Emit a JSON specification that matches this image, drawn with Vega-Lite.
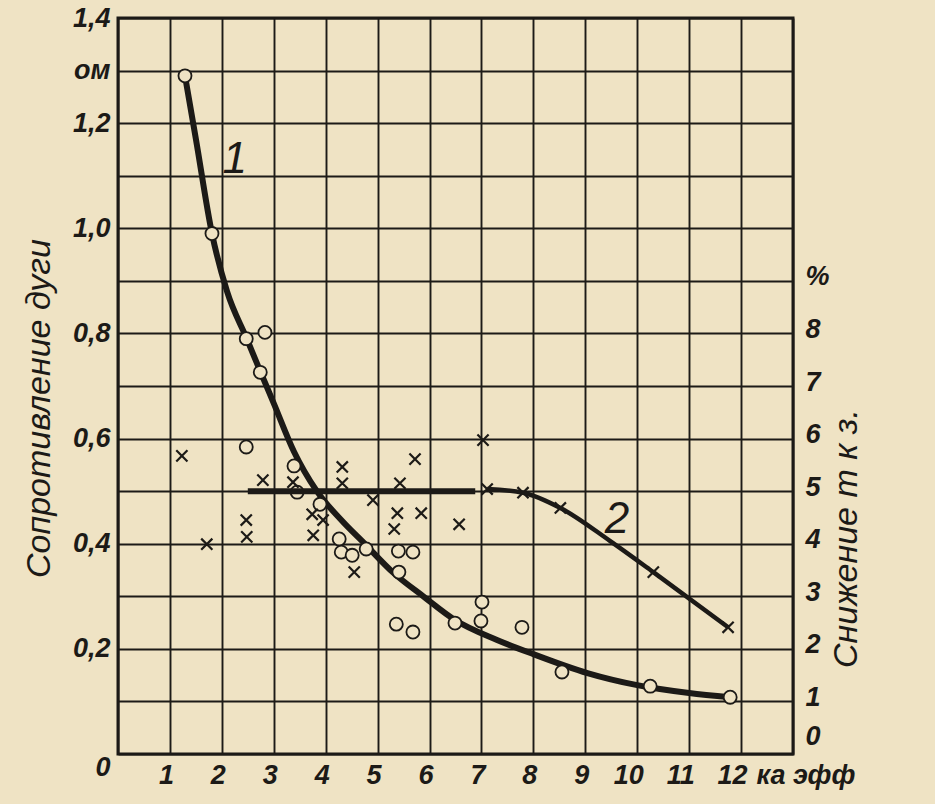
{
  "$schema": "https://vega.github.io/schema/vega-lite/v6.json",
  "width": 675,
  "height": 736,
  "autosize": "none",
  "padding": {"left": 118, "top": 18, "right": 142, "bottom": 50},
  "background": "#efe3c4",
  "config": {
    "view": {"stroke": "#1c1a17", "strokeWidth": 3},
    "axis": {
      "labelFont": "Liberation Sans, sans-serif",
      "labelFontStyle": "italic",
      "labelFontWeight": "bold",
      "labelFontSize": 27,
      "labelColor": "#1c1a17",
      "titleFont": "Liberation Sans, sans-serif",
      "titleFontStyle": "italic",
      "titleFontWeight": "normal",
      "titleFontSize": 34,
      "titleColor": "#1c1a17",
      "ticks": false,
      "domain": false,
      "gridColor": "#1c1a17",
      "gridOpacity": 1,
      "gridWidth": 1.9,
      "labelOverlap": false,
      "labelFlush": false,
      "labelBound": false
    }
  },
  "datasets": {
    "curve1": [
      {"x": 1.29, "r": 1.29}, {"x": 1.5, "r": 1.17}, {"x": 1.81, "r": 0.99}, {"x": 2.1, "r": 0.88},
      {"x": 2.48, "r": 0.79}, {"x": 2.74, "r": 0.728}, {"x": 3.0, "r": 0.667}, {"x": 3.39, "r": 0.575},
      {"x": 3.83, "r": 0.5}, {"x": 4.3, "r": 0.445}, {"x": 4.75, "r": 0.4}, {"x": 5.3, "r": 0.345},
      {"x": 5.88, "r": 0.3}, {"x": 6.49, "r": 0.255}, {"x": 7.3, "r": 0.217}, {"x": 8.0, "r": 0.19},
      {"x": 9.04, "r": 0.154}, {"x": 10.0, "r": 0.131}, {"x": 11.0, "r": 0.116}, {"x": 11.79, "r": 0.108}
    ],
    "circles": [
      {"x": 1.29, "r": 1.29}, {"x": 1.81, "r": 0.99}, {"x": 2.47, "r": 0.79}, {"x": 2.83, "r": 0.802},
      {"x": 2.74, "r": 0.726}, {"x": 2.47, "r": 0.584}, {"x": 3.39, "r": 0.548}, {"x": 3.45, "r": 0.498},
      {"x": 3.89, "r": 0.475}, {"x": 4.26, "r": 0.409}, {"x": 4.3, "r": 0.384}, {"x": 4.51, "r": 0.378},
      {"x": 4.78, "r": 0.39}, {"x": 5.4, "r": 0.386}, {"x": 5.68, "r": 0.384}, {"x": 5.41, "r": 0.346},
      {"x": 5.36, "r": 0.247}, {"x": 5.68, "r": 0.232}, {"x": 6.49, "r": 0.249}, {"x": 7.01, "r": 0.289},
      {"x": 6.99, "r": 0.253}, {"x": 7.78, "r": 0.241}, {"x": 8.55, "r": 0.156}, {"x": 10.25, "r": 0.129},
      {"x": 11.79, "r": 0.108}
    ],
    "curve2": [
      {"seg": "a", "x": 2.5, "p": 5.0}, {"seg": "a", "x": 6.88, "p": 5.0},
      {"seg": "b", "x": 7.11, "p": 5.04}, {"seg": "b", "x": 7.8, "p": 4.97}, {"seg": "b", "x": 8.52, "p": 4.68},
      {"seg": "b", "x": 9.48, "p": 4.05}, {"seg": "b", "x": 10.31, "p": 3.46}, {"seg": "b", "x": 11.75, "p": 2.41}
    ],
    "crosses": [
      {"x": 1.23, "p": 5.67}, {"x": 1.71, "p": 3.99}, {"x": 2.47, "p": 4.45}, {"x": 2.48, "p": 4.13},
      {"x": 2.79, "p": 5.21}, {"x": 3.37, "p": 5.17}, {"x": 3.74, "p": 4.56}, {"x": 3.95, "p": 4.45},
      {"x": 3.76, "p": 4.16}, {"x": 4.32, "p": 5.46}, {"x": 4.32, "p": 5.15}, {"x": 4.55, "p": 3.46},
      {"x": 4.91, "p": 4.83}, {"x": 5.38, "p": 4.58}, {"x": 5.43, "p": 5.15}, {"x": 5.32, "p": 4.28},
      {"x": 5.72, "p": 5.61}, {"x": 5.84, "p": 4.58}, {"x": 6.57, "p": 4.37}, {"x": 7.03, "p": 5.97},
      {"x": 7.11, "p": 5.04}, {"x": 7.8, "p": 4.97}, {"x": 8.52, "p": 4.68}, {"x": 10.31, "p": 3.46},
      {"x": 11.75, "p": 2.41}
    ],
    "label1": [{"x": 2.25, "r": 1.13, "t": "1"}],
    "label2": [{"x": 9.61, "p": 4.45, "t": "2"}]
  },
  "layer": [
    {
      "layer": [
        {
          "data": {"name": "curve1"},
          "mark": {"type": "line", "interpolate": "monotone", "color": "#1c1a17", "strokeWidth": 6, "strokeCap": "round"},
          "encoding": {
            "x": {"field": "x", "type": "quantitative", "scale": {"domain": [0, 13], "nice": false},
                  "axis": {"values": [0,1,2,3,4,5,6,7,8,9,10,11,12,13], "grid": true, "title": null, "labelPadding": 8,
                           "labelOffset": {"condition": [{"test": "datum.value==13", "value": -37}, {"test": "datum.value>=10", "value": -9}], "value": -4},
                           "labelAlign": {"condition": {"test": "datum.value==13", "value": "left"}, "value": "center"},
                           "labelExpr": "datum.value==0 ? '' : datum.value==13 ? 'ка эфф' : datum.label"}},
            "y": {"field": "r", "type": "quantitative", "scale": {"domain": [0, 1.4], "nice": false},
                  "axis": {"orient": "left", "values": [0,0.1,0.2,0.3,0.4,0.5,0.6,0.7,0.8,0.9,1.0,1.1,1.2,1.3,1.4], "grid": true,
                           "labelPadding": 8,
                           "labelExpr": "datum.value==0 ? '0' : datum.value==1.3 ? 'ом' : (round(datum.value*10)%2==0 ? replace(format(datum.value,'.1f'),'.',',') : '')",
                           "labelBaseline": {"condition": {"test": "datum.value==0", "value": "top"}, "value": "middle"},
                           "title": "Сопротивление дуги", "titlePadding": 16, "titleY": 390}}
          }
        },
        {
          "data": {"name": "circles"},
          "mark": {"type": "point", "shape": "circle", "filled": true, "fill": "#efe3c4", "stroke": "#1c1a17", "strokeWidth": 1.8, "size": 170, "opacity": 1},
          "encoding": {
            "x": {"field": "x", "type": "quantitative"},
            "y": {"field": "r", "type": "quantitative"}
          }
        },
        {
          "data": {"name": "label1"},
          "mark": {"type": "text", "font": "Liberation Sans, sans-serif", "fontStyle": "italic", "fontSize": 44, "color": "#1c1a17"},
          "encoding": {
            "x": {"field": "x", "type": "quantitative"},
            "y": {"field": "r", "type": "quantitative"},
            "text": {"field": "t"}
          }
        }
      ]
    },
    {
      "layer": [
        {
          "data": {"name": "curve2"},
          "mark": {"type": "line", "interpolate": "monotone", "color": "#1c1a17"},
          "encoding": {
            "x": {"field": "x", "type": "quantitative", "scale": {"domain": [0, 13], "nice": false},
                  "axis": {"values": [0,1,2,3,4,5,6,7,8,9,10,11,12,13], "grid": true, "title": null, "labelPadding": 8,
                           "labelOffset": {"condition": [{"test": "datum.value==13", "value": -37}, {"test": "datum.value>=10", "value": -9}], "value": -4},
                           "labelAlign": {"condition": {"test": "datum.value==13", "value": "left"}, "value": "center"},
                           "labelExpr": "datum.value==0 ? '' : datum.value==13 ? 'ка эфф' : datum.label"}},
            "y": {"field": "p", "type": "quantitative", "scale": {"domain": [0, 14], "nice": false},
                  "axis": {"orient": "right", "values": [0,1,2,3,4,5,6,7,8,9], "grid": false,
                           "labelPadding": 12, "labelOffset": -4,
                           "labelExpr": "datum.value==9 ? '%' : datum.label",
                           "labelBaseline": {"condition": {"test": "datum.value==0", "value": "bottom"}, "value": "middle"},
                           "title": "Снижение т к з.", "titleAngle": 270, "titlePadding": 34, "titleY": 520}},
            "detail": {"field": "seg"},
            "strokeWidth": {"field": "seg", "type": "nominal", "scale": {"domain": ["a", "b"], "range": [6, 4.5]}, "legend": null}
          }
        },
        {
          "data": {"name": "crosses"},
          "mark": {"type": "point", "shape": "M-1,-1L1,1M-1,1L1,-1", "filled": false, "stroke": "#1c1a17", "strokeWidth": 2.2, "size": 125, "opacity": 1},
          "encoding": {
            "x": {"field": "x", "type": "quantitative"},
            "y": {"field": "p", "type": "quantitative"}
          }
        },
        {
          "data": {"name": "label2"},
          "mark": {"type": "text", "font": "Liberation Sans, sans-serif", "fontStyle": "italic", "fontSize": 44, "color": "#1c1a17"},
          "encoding": {
            "x": {"field": "x", "type": "quantitative"},
            "y": {"field": "p", "type": "quantitative"},
            "text": {"field": "t"}
          }
        }
      ]
    }
  ],
  "resolve": {"scale": {"y": "independent"}, "axis": {"y": "independent"}}
}
